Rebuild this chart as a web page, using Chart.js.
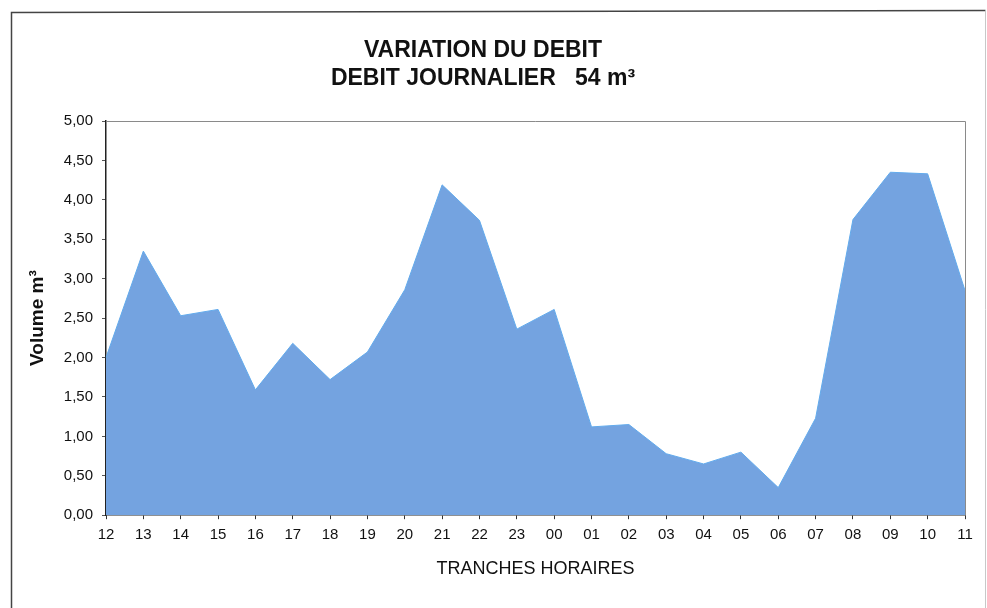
<!DOCTYPE html>
<html>
<head>
<meta charset="utf-8">
<title>Variation du debit</title>
<script src="https://cdn.jsdelivr.net/npm/chart.js@4"></script>
<style>
  html, body { margin: 0; padding: 0; background: #fff; }
  #wrap { width: 987px; height: 608px; position: relative; }
</style>
</head>
<body>
<div id="wrap"><canvas id="debitChart" width="987" height="608"></canvas></div>
<script>
'use strict';

// hourly slots, starting at noon
let hours = ['12', '13', '14', '15', '16', '17', '18', '19', '20', '21', '22', '23',
  '00', '01', '02', '03', '04', '05', '06', '07', '08', '09', '10', '11'];

// volume per slot in m3
let volumes = [2.00, 3.35, 2.53, 2.61, 1.59, 2.18, 1.72, 2.07, 2.86, 4.19, 3.74, 2.36,
  2.61, 1.12, 1.15, 0.78, 0.65, 0.80, 0.35, 1.23, 3.75, 4.35, 4.33, 2.85];

let yTicks = [0, 0.5, 1, 1.5, 2, 2.5, 3, 3.5, 4, 4.5, 5];

let titleLines = ['VARIATION DU DEBIT', 'DEBIT JOURNALIER   54 m\u00b3'];

// frame around the whole chart + titles + gray box on top/right of the plot
let decorPlugin = {
  id: 'decor',
  beforeDraw(chart) {
    let ctx = chart.ctx;
    ctx.save();
    ctx.strokeStyle = '#444';
    ctx.lineWidth = 1.5;
    ctx.beginPath();
    ctx.moveTo(11.5, 612);
    ctx.lineTo(11.5, 12.5);
    ctx.lineTo(985.5, 10.5);
    ctx.stroke();
    ctx.strokeStyle = '#c8c8c8';
    ctx.lineWidth = 1;
    ctx.beginPath();
    ctx.moveTo(985.5, 10.5);
    ctx.lineTo(985.5, 612);
    ctx.stroke();
    ctx.restore();
  },
  afterDraw(chart) {
    let ctx = chart.ctx;
    let a = chart.chartArea;
    ctx.save();
    ctx.strokeStyle = '#8a8a8a';
    ctx.lineWidth = 1;
    ctx.beginPath();
    ctx.moveTo(a.left, a.top + 0.5);
    ctx.lineTo(a.right + 0.5, a.top + 0.5);
    ctx.lineTo(a.right + 0.5, a.bottom);
    ctx.stroke();

    ctx.fillStyle = '#111';
    ctx.font = 'bold 23px "Liberation Sans", Arial, sans-serif';
    ctx.textAlign = 'center';
    ctx.textBaseline = 'middle';
    ctx.fillText(titleLines[0], 483, 51);
    ctx.fillText(titleLines[1], 483, 79);
    ctx.restore();
  }
};

let ctx = document.getElementById('debitChart');

new Chart(ctx, {
  type: 'line',
  data: {
    labels: hours,
    datasets: [{
      label: 'Volume',
      data: volumes,
      fill: 'origin',
      backgroundColor: '#74a3e0',
      borderColor: '#63abec',
      borderWidth: 1,
      pointRadius: 0,
      tension: 0
    }]
  },
  options: {
    responsive: false,
    animation: false,
    layout: {
      padding: { left: 26, right: 22, top: 121, bottom: 28 }
    },
    plugins: {
      legend: { display: false },
      tooltip: { enabled: false }
    },
    scales: {
      x: {
        offset: false,
        grid: {
          drawOnChartArea: false,
          drawTicks: true,
          tickLength: 4,
          color: '#333'
        },
        border: { color: '#222', width: 1.5 },
        ticks: {
          autoSkip: false,
          maxRotation: 0,
          padding: 7,
          color: '#111',
          font: { family: '"Liberation Sans", Arial, sans-serif', size: 15 }
        },
        title: {
          display: true,
          text: 'TRANCHES HORAIRES',
          color: '#111',
          padding: 0,
          font: { family: '"Liberation Sans", Arial, sans-serif', size: 18 }
        },
        afterFit(scale) { scale.height = 64.8; }
      },
      y: {
        min: 0,
        max: 5,
        afterBuildTicks(scale) {
          scale.ticks = yTicks.map(v => ({ value: v }));
        },
        grid: {
          drawOnChartArea: false,
          drawTicks: true,
          tickLength: 4,
          color: '#555'
        },
        border: { color: '#222', width: 1.5 },
        ticks: {
          padding: 9,
          color: '#111',
          font: { family: '"Liberation Sans", Arial, sans-serif', size: 15 },
          callback: v => v.toFixed(2).replace('.', ',')
        },
        title: {
          display: true,
          text: 'Volume m\u00b3',
          color: '#111',
          padding: 0,
          font: { family: '"Liberation Sans", Arial, sans-serif', size: 19, weight: 'bold' }
        },
        afterFit(scale) { scale.width = 80; }
      }
    }
  },
  plugins: [decorPlugin]
});
</script>
</body>
</html>
